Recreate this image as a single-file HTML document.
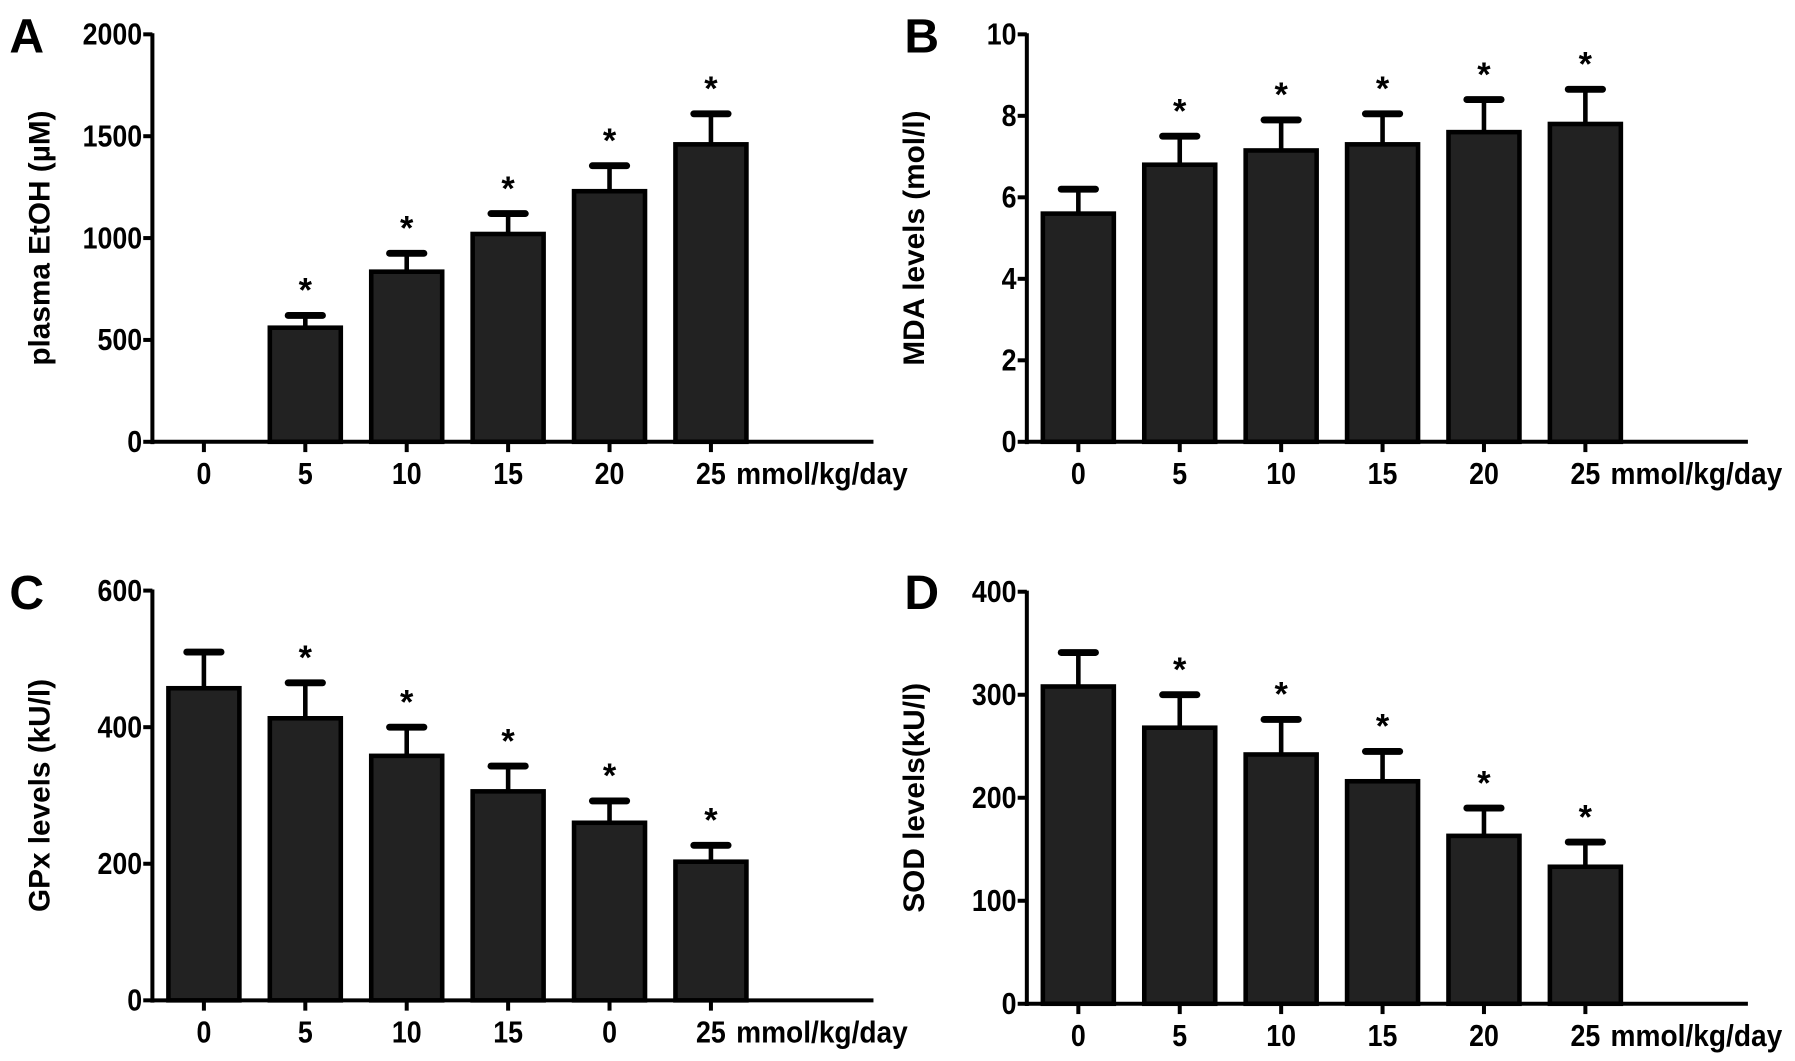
<!DOCTYPE html>
<html><head><meta charset="utf-8"><style>
html,body{margin:0;padding:0;background:#fff;}
svg{display:block;}
text{font-family:"Liberation Sans",Arial,sans-serif;font-weight:bold;fill:#000;}
</style></head><body>
<svg id="fig" width="1795" height="1061" viewBox="0 0 1568 927" xmlns="http://www.w3.org/2000/svg"></svg>
<script>
const categoriesA = ["0","5","10","15","20","25"];
const valuesA = [0,560,835,1020,1230,1460];
const errorsA = [0,620,925,1120,1355,1610];
const starsA = [false,true,true,true,true,true];
const ticksA = [0,500,1000,1500,2000];

const categoriesB = ["0","5","10","15","20","25"];
const valuesB = [5.6,6.8,7.15,7.3,7.6,7.8];
const errorsB = [6.2,7.5,7.9,8.05,8.4,8.65];
const starsB = [false,true,true,true,true,true];
const ticksB = [0,2,4,6,8,10];

const categoriesC = ["0","5","10","15","0","25"];
const valuesC = [457,413,358,306,260,203];
const errorsC = [510,465,400,343,292,227];
const starsC = [false,true,true,true,true,true];
const ticksC = [0,200,400,600];

const categoriesD = ["0","5","10","15","20","25"];
const valuesD = [308,268,242,216,163,133];
const errorsD = [341,300,276,245,190,157];
const starsD = [false,true,true,true,true,true];
const ticksD = [0,100,200,300,400];

const NS="http://www.w3.org/2000/svg";
const svg=document.getElementById('fig');
function mk(tag,attrs,parent){const e=document.createElementNS(NS,tag);for(const k in attrs)e.setAttribute(k,attrs[k]);(parent||svg).appendChild(e);return e;}

function panel(p){
  const g=mk('g',{});
  
  
  const y=v=>p.y0-(v/p.max)*(p.y0-p.y1);
  const x=i=>p.x0+45+i*88.6;
  const lab=mk('text',{x:p.lx,y:p.ly,'font-size':42},g);lab.textContent=p.id;
  
  
  const ya=mk('line',{x1:p.x0,y1:p.y1-1,x2:p.x0,y2:p.y0+2,stroke:'#000','stroke-width':3.5},g);
  
  
  p.ticks.forEach(t=>{
    mk('line',{x1:p.x0-8,y1:y(t),x2:p.x0,y2:y(t),stroke:'#000','stroke-width':3.5},g);
    const tl=mk('text',{x:p.x0-9,y:y(t)+9,'font-size':27,'text-anchor':'end',textLength:String(t).length*13,lengthAdjust:'spacingAndGlyphs'},g);tl.textContent=t;
    
    
  });
  const xa=mk('line',{x1:p.x0-1,y1:p.y0,x2:p.x0+630,y2:p.y0,stroke:'#000','stroke-width':3.5},g);
  
  
  const yt=mk('text',{x:0,y:0,'font-size':26,'text-anchor':'middle',transform:`translate(${p.x0-90},${(p.y0+p.y1)/2}) rotate(-90)`},g);
  yt.textContent=p.title;
  
  
  p.cats.forEach((c,i)=>{
    const cx=x(i);
    mk('line',{x1:cx,y1:p.y0,x2:cx,y2:p.y0+9,stroke:'#000','stroke-width':3.5},g);
    const xl=mk('text',{x:cx,y:p.y0+37,'font-size':27,'text-anchor':'middle',textLength:c.length*13,lengthAdjust:'spacingAndGlyphs'},g);xl.textContent=c;
    
    
    if(p.vals[i]>0){
      const by=y(p.vals[i]), ey=y(p.errs[i]);
      const el=mk('line',{x1:cx,y1:by,x2:cx,y2:ey,stroke:'#000','stroke-width':4},g);
      
      
      const cap=mk('line',{x1:cx-15,y1:ey,x2:cx+15,y2:ey,stroke:'#000','stroke-width':6,'stroke-linecap':'round'},g);
      
      
      const r=mk('rect',{x:cx-31,y:by,width:62,height:p.y0-by,fill:'#222',stroke:'#000','stroke-width':4},g);
      
      
      if(p.stars[i]){
        const s=mk('text',{x:cx,y:ey-12,'font-size':30,'text-anchor':'middle'},g);s.textContent='*';
        
        
      }
    }
  });
  const u=mk('text',{x:x(5)+22,y:p.y0+37,'font-size':27,textLength:150,lengthAdjust:'spacingAndGlyphs'},g);u.textContent='mmol/kg/day';
  
  
}
panel({id:'A',lx:8,ly:46,x0:133,y0:386,y1:30,max:2000,ticks:ticksA,cats:categoriesA,vals:valuesA,errs:errorsA,stars:starsA,title:'plasma  EtOH  (µM)'});
panel({id:'B',lx:790,ly:46,x0:897,y0:386,y1:30,max:10,ticks:ticksB,cats:categoriesB,vals:valuesB,errs:errorsB,stars:starsB,title:'MDA levels (mol/l)'});
panel({id:'C',lx:8,ly:532,x0:133,y0:874,y1:516,max:600,ticks:ticksC,cats:categoriesC,vals:valuesC,errs:errorsC,stars:starsC,title:'GPx levels (kU/l)'});
panel({id:'D',lx:790,ly:532,x0:897,y0:877,y1:517,max:400,ticks:ticksD,cats:categoriesD,vals:valuesD,errs:errorsD,stars:starsD,title:'SOD levels(kU/l)'});
</script>
</body></html>
